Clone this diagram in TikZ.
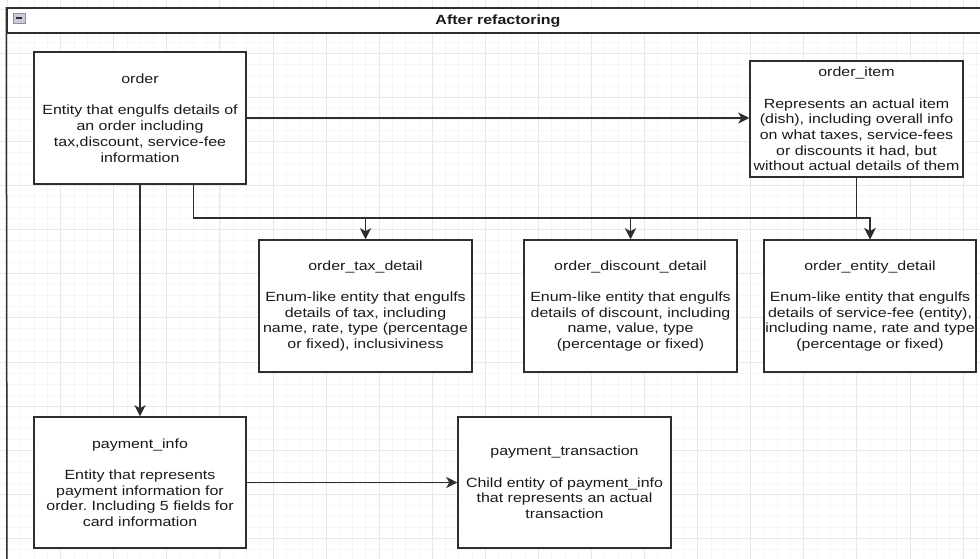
\documentclass[tikz,border=0pt]{standalone}
\usepackage{fontspec}
\setmainfont{Liberation Sans}
\newfontfamily\dfont{Liberation Sans}[FakeStretch=1.2]
\usetikzlibrary{arrows.meta,calc}
\frenchspacing

\definecolor{inkline}{HTML}{2E2E2E}
\definecolor{inktext}{HTML}{1A1A1A}
\definecolor{gridminor}{HTML}{F6F6F6}
\definecolor{gridmajor}{HTML}{E8E8E8}
\definecolor{iconfill}{HTML}{C9CCD8}
\definecolor{iconedge}{HTML}{8C90A0}

\tikzset{
  entity/.style={draw=inkline, line width=1.5pt, fill=white, inner sep=0pt,
    align=center, text=inktext, font=\dfont\fontsize{13.3}{15.7}\selectfont},
  conn/.style={draw=inkline, line width=1.5pt,
    -{Stealth[length=11pt,width=11pt,inset=3pt]}}
}

\newcommand{\ebox}[6]{% name, x1, y1, x2, y2, text
  \node[entity, minimum width={#4-#2}, minimum height={#5-#3}]
    (#1) at ({(#2+#4)/2},{(#3+#5)/2}) {#6};}

\begin{document}
\begin{tikzpicture}[x=1pt, y=-1pt]
  \useasboundingbox (0,0) rectangle (980,559);
  \clip (0,0) rectangle (980,559);

  % background grid
  \foreach \k in {-1,...,75} {
    \draw[gridminor, line width=0.8pt] ({7.6+13.27*\k},0) -- ({7.6+13.27*\k},559);
  }
  \foreach \k in {-1,...,51} {
    \draw[gridminor, line width=0.8pt] (0,{9+11.03*\k}) -- (980,{9+11.03*\k});
  }
  \foreach \k in {-1,...,19} {
    \draw[gridmajor, line width=0.9pt] ({7.6+53.08*\k},0) -- ({7.6+53.08*\k},559);
  }
  \foreach \k in {-1,...,13} {
    \draw[gridmajor, line width=0.9pt] (0,{9+44.12*\k}) -- (980,{9+44.12*\k});
  }

  % container with its header
  \node[fill=white, draw=inkline, line width=1.5pt, minimum width=982pt,
        minimum height=25pt, inner sep=0pt] (header) at (498,20.5) {};
  \draw[inkline, line width=1.5pt] (header.north west) -- (7,570);
  \node[font=\dfont\bfseries\fontsize{13.3}{15.7}\selectfont, text=inktext,
        anchor=base] (title) at (498,25) {After refactoring};
  \node[draw=iconedge, fill=iconfill, line width=0.8pt, minimum width=12pt,
        minimum height=10pt, inner sep=0pt] (collapse) at (19,18) {};
  \draw[inkline, line width=1.3pt] ($(collapse.west)+(3,0)$) -- ($(collapse.east)+(-3,0)$);

  % entities
  \ebox{order}{34}{52}{246}{184}{order\\[15.7pt]Entity that engulfs details of\\an order including\\tax,discount, service-fee\\information}
  \ebox{item}{750}{61}{963}{177}{order\_item\\[15.7pt]Represents an actual item\\(dish), including overall info\\on what taxes, service-fees\\or discounts it had, but\\without actual details of them}
  \ebox{tax}{259}{240}{472}{372}{order\_tax\_detail\\[15.7pt]Enum-like entity that engulfs\\details of tax, including\\name, rate, type (percentage\\or fixed), inclusiviness}
  \ebox{disc}{524}{240}{737}{372}{order\_discount\_detail\\[15.7pt]Enum-like entity that engulfs\\details of discount, including\\name, value, type\\(percentage or fixed)}
  \ebox{ent}{764}{240}{976}{372}{order\_entity\_detail\\[15.7pt]Enum-like entity that engulfs\\details of service-fee (entity),\\including name, rate and type\\(percentage or fixed)}
  \ebox{pay}{34}{417}{246}{548}{payment\_info\\[15.7pt]Entity that represents\\payment information for\\order. Including 5 fields for\\card information}
  \ebox{trans}{458}{417}{671}{548}{payment\_transaction\\[15.7pt]Child entity of payment\_info\\that represents an actual\\transaction}

  % connectors
  \coordinate (bus) at (0,218);
  \coordinate (o75) at ($(order.south west)!0.75!(order.south east)$);
  \draw[conn] (order.east) -- (order.east -| item.west);
  \draw[conn] (order.south) -- (pay.north);
  \draw[conn] (o75) -- (o75 |- bus) -| (tax.north);
  \draw[conn] (o75) -- (o75 |- bus) -| (disc.north);
  \draw[conn] (o75) -- (o75 |- bus) -| (ent.north);
  \draw[conn] (item.south) -- (item.south |- bus) -| (ent.north);
  \draw[conn] (pay.east) -- (pay.east -| trans.west);
\end{tikzpicture}
\end{document}
